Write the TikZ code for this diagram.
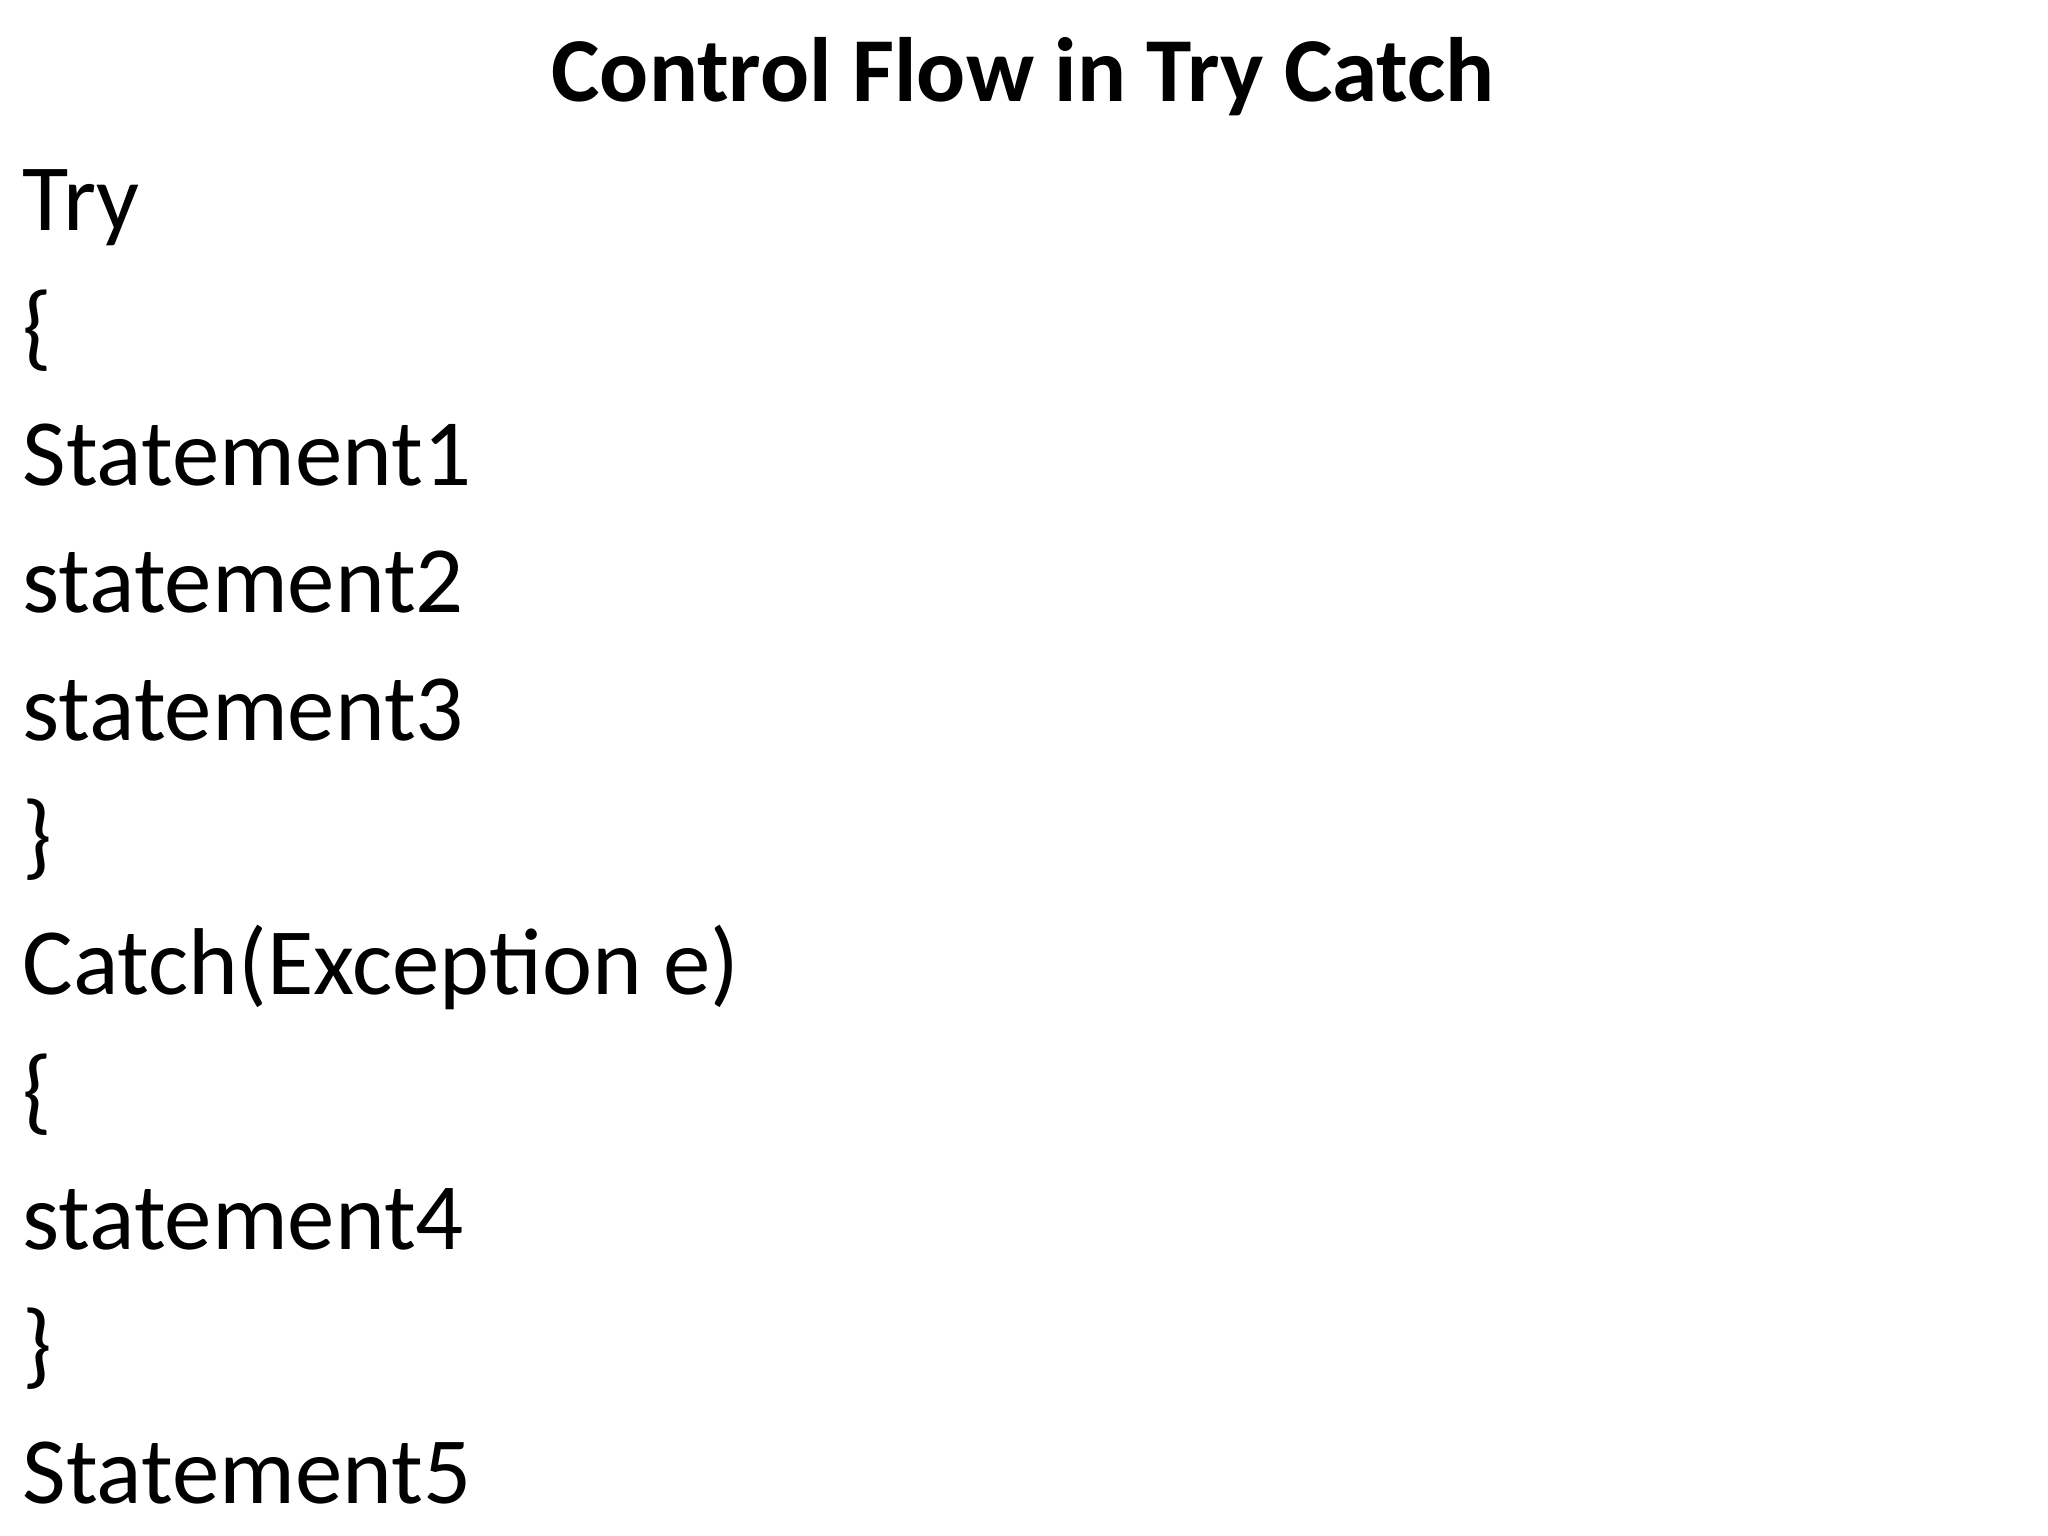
\documentclass[tikz,border=0pt]{standalone}
\usepackage{fontspec}
\setmainfont{Carlito}
\usetikzlibrary{positioning}
\tikzset{codeline/.style={anchor=base west, inner sep=0pt, font=\fontsize{27}{32}\selectfont}}

\begin{document}
\begin{tikzpicture}

    \useasboundingbox (0,0) rectangle (20.48,15.36);
    \node[anchor=base, inner sep=0pt, font=\bfseries\fontsize{26}{31}\selectfont] (title) at (10.23,14.34) {Control Flow in Try Catch};
\foreach \txt [count=\i] in {Try,\{,Statement1,statement2,statement3,\},Catch(Exception e),\{,statement4,\},Statement5}
{
    \node[codeline] (line\i) at (0.22,{13.05-(\i-1)*1.273}) {\txt};
}

\end{tikzpicture}
\end{document}
